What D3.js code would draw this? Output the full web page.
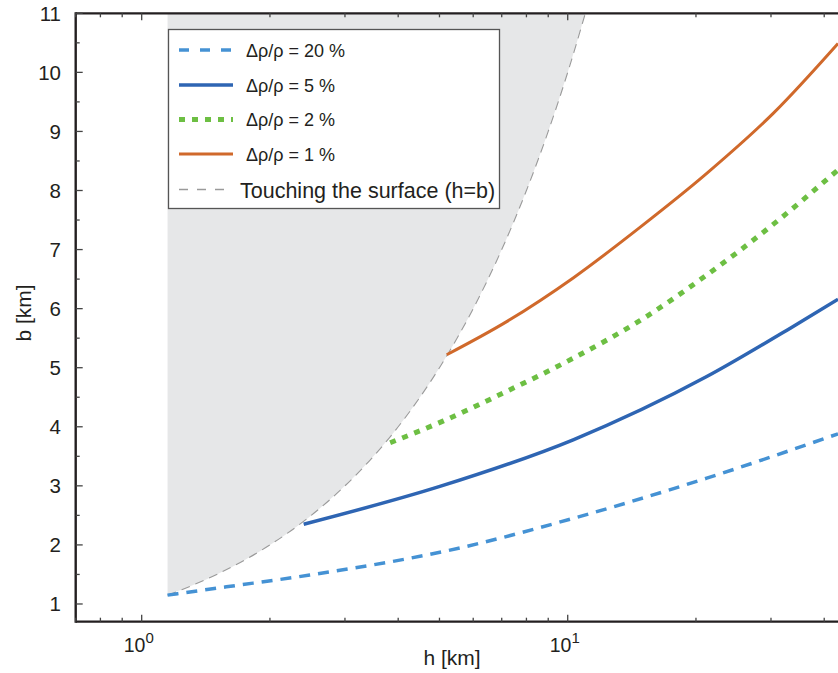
<!DOCTYPE html>
<html>
<head>
<meta charset="utf-8">
<script src="https://cdnjs.cloudflare.com/ajax/libs/d3/7.8.5/d3.min.js"></script>
<style>
body { margin: 0; background: #fff; }
svg { display: block; font-family: "Liberation Sans", Arial, sans-serif; }
</style>
</head>
<body>
<div class="chart"></div>
<script>
// values (h in km, b in km)
var h20 = [1.15, 1.58, 2.48, 5.59, 10.3, 21.2, 43.1];
var b20 = [1.15, 1.29, 1.49, 1.95, 2.45, 3.13, 3.88];

var h5 = [2.40, 5.01, 10.3, 21.2, 33.3, 43.1];
var b5 = [2.35, 2.99, 3.78, 4.85, 5.67, 6.16];

var h2 = [3.83, 5.11, 7.19, 10.3, 14.8, 21.2, 30.4, 43.1];
var b2 = [3.73, 4.10, 4.60, 5.16, 5.80, 6.57, 7.43, 8.35];

var h1 = [5.20, 7.19, 10.3, 14.8, 21.2, 30.4, 43.1];
var b1 = [5.22, 5.78, 6.52, 7.38, 8.29, 9.31, 10.49];

// surface line h = b
var surfaceH = [1.15, 1.25, 1.5, 1.75, 2, 2.5, 3, 3.5, 4, 4.5, 5, 6, 7, 8, 9, 10, 11];

var legendLabels = ["\u0394\u03c1/\u03c1 = 20 %", "\u0394\u03c1/\u03c1 = 5 %", "\u0394\u03c1/\u03c1 = 2 %", "\u0394\u03c1/\u03c1 = 1 %", "Touching the surface (h=b)"];
var yTicks = [1, 2, 3, 4, 5, 6, 7, 8, 9, 10, 11];
var yMinor = [1.5, 2.5, 3.5, 4.5, 5.5, 6.5, 7.5, 8.5, 9.5, 10.5];
var xTicks = [1, 10];
var xMinor = [0.7, 0.8, 0.9, 2, 3, 4, 5, 6, 7, 8, 9, 20, 30, 40];

var svgWidth = 838;
var svgHeight = 673;

var svg = d3.select(".chart")
    .append("svg")
    .attr("width", svgWidth)
    .attr("height", svgHeight);

var xScale = d3.scaleLog().domain([0.7, 50]).range([75.7, 865.5]);
var yScale = d3.scaleLinear().domain([0.7, 11]).range([621.7, 13.3]);

svg.append("clipPath").attr("id", "plot")
    .append("rect")
    .attr("x", xScale(0.7)).attr("y", yScale(11))
    .attr("width", xScale(50) - xScale(0.7))
    .attr("height", yScale(0.7) - yScale(11));

var chart = svg.append("g").attr("clip-path", "url(#plot)");

function pts(hs, bs) {
    return hs.map(function (h, i) { return [h, bs[i]]; });
}

var line = d3.line()
    .x(function (d) { return xScale(d[0]); })
    .y(function (d) { return yScale(d[1]); })
    .curve(d3.curveMonotoneX);

// gray region where the body would cross the surface
var surf = pts(surfaceH, surfaceH);
var region = [[surfaceH[0], 11]].concat(surf);
chart.append("path")
    .attr("d", d3.line()
        .x(function (d) { return xScale(d[0]); })
        .y(function (d) { return yScale(d[1]); })
        .curve(d3.curveMonotoneY)(region) + "Z")
    .attr("fill", "#e6e7e8");

chart.append("path")
    .datum(surf)
    .attr("d", line)
    .attr("fill", "none")
    .attr("stroke", "#9a9a9a")
    .attr("stroke-width", 1.1)
    .attr("stroke-dasharray", "9,6");

var series = [
    { data: pts(h20, b20), color: "#4592d4", width: 3.5, dash: "11,8" },
    { data: pts(h5, b5), color: "#2e65b3", width: 3.5, dash: null },
    { data: pts(h2, b2), color: "#6dbf43", width: 5, dash: "6,7" },
    { data: pts(h1, b1), color: "#d0692b", width: 3, dash: null }
];

series.forEach(function (s) {
    chart.append("path")
        .datum(s.data)
        .attr("d", line)
        .attr("fill", "none")
        .attr("stroke", s.color)
        .attr("stroke-width", s.width)
        .attr("stroke-dasharray", s.dash);
});

// axes
var axisColor = "#231f20";
var x0 = xScale(0.7), y0 = yScale(0.7), yTop = yScale(11);

svg.append("line").attr("x1", x0).attr("x2", svgWidth).attr("y1", y0).attr("y2", y0)
    .attr("stroke", axisColor).attr("stroke-width", 2.2);
svg.append("line").attr("x1", x0).attr("x2", svgWidth).attr("y1", yTop).attr("y2", yTop)
    .attr("stroke", axisColor).attr("stroke-width", 2.2);
svg.append("line").attr("x1", x0).attr("x2", x0).attr("y1", yTop - 1.1).attr("y2", y0 + 1.1)
    .attr("stroke", axisColor).attr("stroke-width", 2.4);

var ticks = svg.append("g").attr("stroke", "#444").attr("stroke-width", 1.3);

xTicks.concat(xMinor).forEach(function (v) {
    var len = xTicks.indexOf(v) >= 0 ? 7 : 4;
    ticks.append("line").attr("x1", xScale(v)).attr("x2", xScale(v))
        .attr("y1", y0).attr("y2", y0 - len);
    ticks.append("line").attr("x1", xScale(v)).attr("x2", xScale(v))
        .attr("y1", yTop).attr("y2", yTop + len);
});

yTicks.concat(yMinor).forEach(function (v) {
    var len = yTicks.indexOf(v) >= 0 ? 7 : 4;
    ticks.append("line").attr("x1", x0).attr("x2", x0 + len)
        .attr("y1", yScale(v)).attr("y2", yScale(v));
});

svg.selectAll(".ylab")
    .data(yTicks)
    .enter()
    .append("text")
    .attr("class", "ylab")
    .attr("x", 61)
    .attr("y", function (d) { return yScale(d) + 7.5; })
    .attr("text-anchor", "end")
    .attr("font-size", "20.5px")
    .attr("fill", axisColor)
    .text(function (d) { return d; });

var xlab = svg.selectAll(".xlab")
    .data(xTicks)
    .enter()
    .append("text")
    .attr("class", "xlab")
    .attr("x", function (d) { return xScale(d) - 18; })
    .attr("y", 652)
    .attr("font-size", "19.5px")
    .attr("fill", axisColor);
xlab.append("tspan").text("10");
xlab.append("tspan")
    .attr("dy", -9)
    .attr("font-size", "15px")
    .text(function (d) { return Math.round(Math.log10(d)); });

svg.append("text")
    .attr("x", 452)
    .attr("y", 665)
    .attr("text-anchor", "middle")
    .attr("font-size", "21px")
    .attr("fill", axisColor)
    .text("h [km]");

svg.append("text")
    .attr("transform", "translate(31,313)rotate(-90)")
    .attr("text-anchor", "middle")
    .attr("font-size", "21px")
    .attr("fill", axisColor)
    .text("b [km]");

// legend
var legend = svg.append("g");
legend.append("rect")
    .attr("x", 168.5).attr("y", 29.5)
    .attr("width", 331).attr("height", 179)
    .attr("fill", "#fff")
    .attr("stroke", "#555")
    .attr("stroke-width", 1.3);

var legendY = [50, 85, 119.5, 154, 189.5];
var legendStyle = series.concat([
    { color: "#9a9a9a", width: 1.3, dash: "9,9" }
]);

legendStyle.forEach(function (s, i) {
    legend.append("line")
        .attr("x1", 179).attr("x2", 233)
        .attr("y1", legendY[i]).attr("y2", legendY[i])
        .attr("stroke", s.color)
        .attr("stroke-width", s.width)
        .attr("stroke-dasharray", i === 0 ? "10,11" : s.dash);
    legend.append("text")
        .attr("x", i === 4 ? 240 : 246)
        .attr("y", legendY[i] + (i === 4 ? 8 : 6.5))
        .attr("font-size", i === 4 ? "21.5px" : "18px")
        .attr("fill", axisColor)
        .text(legendLabels[i]);
});
</script>
</body>
</html>
